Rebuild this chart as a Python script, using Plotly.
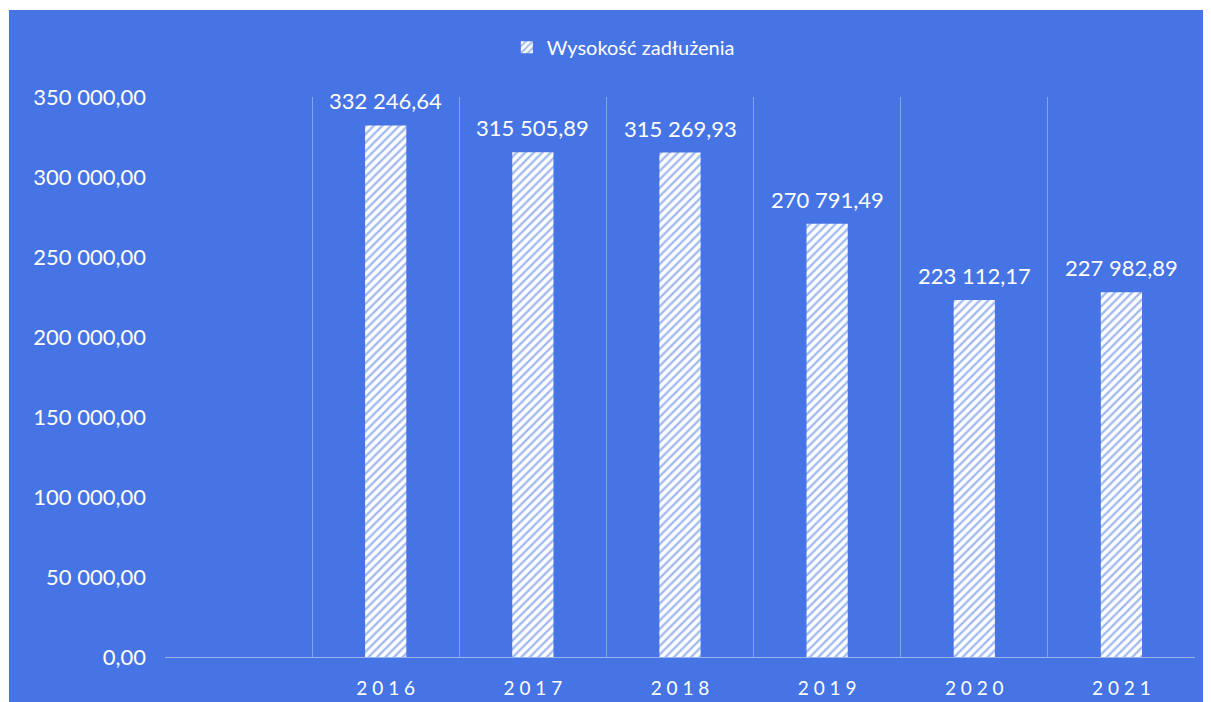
import plotly.graph_objects as go

# data
years = ["2016", "2017", "2018", "2019", "2020", "2021"]
debt = [332246.64, 315505.89, 315269.93, 270791.49, 223112.17, 227982.89]
series_name = "Wysokość zadłużenia"

blue = "#4674E4"
font = "Lato, 'Open Sans', sans-serif"

# empty first category slot, letter-spaced year labels
cats = [" "] + years
spaced = [" "] + [" ".join(y) for y in years]


def pl_num(v):
    # Polish style: space as thousands separator, comma as decimal
    return f"{v:,.2f}".replace(",", " ").replace(".", ",")


fig = go.Figure()
fig.add_trace(go.Bar(
    x=years,
    y=debt,
    name=series_name,
    marker=dict(
        color="white",
        line=dict(width=0),
        pattern=dict(shape="/", fgcolor=blue, bgcolor="white", size=6, solidity=0.4),
    ),
))

# value labels above the bars (category index, since "2016" would be read as a number)
for yr, v in zip(years, debt):
    fig.add_annotation(
        x=cats.index(yr), y=v, text=pl_num(v), showarrow=False,
        xref="x", yref="y",
        yanchor="bottom", yshift=9,
        font=dict(color="white", size=22, family=font),
    )

# blue chart area (leaves a thin white strip at the top and left)
fig.add_shape(
    type="rect", xref="paper", yref="paper",
    x0=-0.1515, x1=1.05, y0=-0.2, y1=1.1554,
    fillcolor=blue, line=dict(width=0), layer="below",
)

fig.update_layout(
    width=1211,
    height=702,
    margin=dict(l=157, r=24, t=89, b=53),
    paper_bgcolor="white",
    plot_bgcolor=blue,
    separators=", ",
    bargap=0.72,
    showlegend=True,
    legend=dict(
        orientation="h", x=0.445, xanchor="center", y=1.089, yanchor="middle",
        font=dict(color="white", size=20, family=font),
        bgcolor="rgba(0,0,0,0)",
        itemwidth=30,
    ),
    font=dict(family=font, color="white"),
)

fig.update_xaxes(
    type="category",
    categoryorder="array",
    categoryarray=cats,
    tickvals=cats,
    ticktext=spaced,
    range=[-0.5, 6.5],
    tickson="boundaries",
    showgrid=True,
    gridcolor="rgba(255,255,255,0.35)",
    gridwidth=1,
    showline=True,
    linecolor="rgba(255,255,255,0.45)",
    ticks="",
    tickfont=dict(size=19, color="white", family=font),
    ticklabelstandoff=14,
)

fig.update_yaxes(
    range=[0, 350000],
    dtick=50000,
    tickformat=",.2f",
    showgrid=False,
    zeroline=False,
    showline=False,
    tickfont=dict(size=22, color="white", family=font),
    ticklabelstandoff=18,
)

fig.write_html("out.html")
